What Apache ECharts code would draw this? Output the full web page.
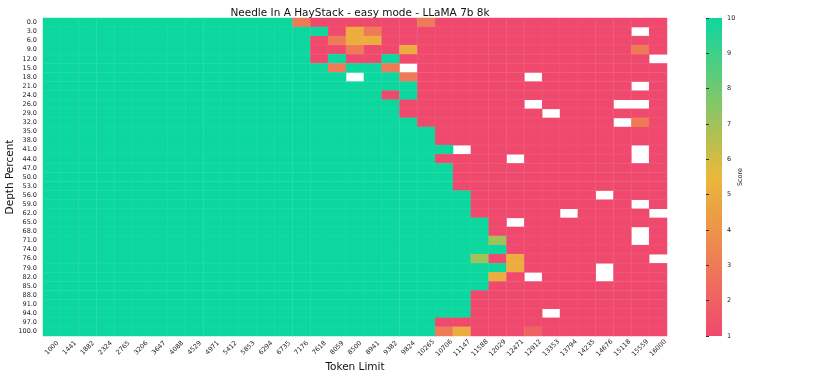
<!DOCTYPE html>
<html>
<head>
<meta charset="utf-8">
<script src="https://cdn.jsdelivr.net/npm/echarts@6/dist/echarts.min.js"></script>
<style>
html, body { margin: 0; padding: 0; background: #fff; }
#chart { width: 830px; height: 380px; }
</style>
</head>
<body>
<div id="chart"></div>
<script>
var tokenLimits = ['1000', '1441', '1882', '2324', '2765', '3206', '3647', '4088', '4529', '4971',
    '5412', '5853', '6294', '6735', '7176', '7618', '8059', '8500', '8941', '9382',
    '9824', '10265', '10706', '11147', '11588', '12029', '12471', '12912', '13353', '13794',
    '14235', '14676', '15118', '15559', '16000'];

var depthPercents = ['0.0', '3.0', '6.0', '9.0', '12.0', '15.0', '18.0', '21.0', '24.0', '26.0',
    '29.0', '32.0', '35.0', '38.0', '41.0', '44.0', '47.0', '50.0', '53.0', '56.0',
    '59.0', '62.0', '65.0', '68.0', '71.0', '74.0', '76.0', '79.0', '82.0', '85.0',
    '88.0', '91.0', '94.0', '97.0', '100.0'];

// one row per depth, one value per token limit; null = no score (white cell)
var scores = [
    [10,10,10,10,10, 10,10,10,10,10, 10,10,10,10,3, 1,1,1,1,1, 1,3,1,1,1, 1,1,1,1,1, 1,1,1,1,1],
    [10,10,10,10,10, 10,10,10,10,10, 10,10,10,10,10, 10,1,5,3,1, 1,1,1,1,1, 1,1,1,1,1, 1,1,1,null,1],
    [10,10,10,10,10, 10,10,10,10,10, 10,10,10,10,10, 1,3,5,5,1, 1,1,1,1,1, 1,1,1,1,1, 1,1,1,1,1],
    [10,10,10,10,10, 10,10,10,10,10, 10,10,10,10,10, 1,1,3,1,1, 5,1,1,1,1, 1,1,1,1,1, 1,1,1,3,1],
    [10,10,10,10,10, 10,10,10,10,10, 10,10,10,10,10, 1,10,1,1,10, 1,1,1,1,1, 1,1,1,1,1, 1,1,1,1,null],
    [10,10,10,10,10, 10,10,10,10,10, 10,10,10,10,10, 10,3,10,10,3, null,1,1,1,1, 1,1,1,1,1, 1,1,1,1,1],
    [10,10,10,10,10, 10,10,10,10,10, 10,10,10,10,10, 10,10,null,10,10, 3,1,1,1,1, 1,1,null,1,1, 1,1,1,1,1],
    [10,10,10,10,10, 10,10,10,10,10, 10,10,10,10,10, 10,10,10,10,10, 10,1,1,1,1, 1,1,1,1,1, 1,1,1,null,1],
    [10,10,10,10,10, 10,10,10,10,10, 10,10,10,10,10, 10,10,10,10,1, 10,1,1,1,1, 1,1,1,1,1, 1,1,1,1,1],
    [10,10,10,10,10, 10,10,10,10,10, 10,10,10,10,10, 10,10,10,10,10, 1,1,1,1,1, 1,1,null,1,1, 1,1,null,null,1],
    [10,10,10,10,10, 10,10,10,10,10, 10,10,10,10,10, 10,10,10,10,10, 1,1,1,1,1, 1,1,1,null,1, 1,1,1,1,1],
    [10,10,10,10,10, 10,10,10,10,10, 10,10,10,10,10, 10,10,10,10,10, 10,1,1,1,1, 1,1,1,1,1, 1,1,null,3,1],
    [10,10,10,10,10, 10,10,10,10,10, 10,10,10,10,10, 10,10,10,10,10, 10,10,1,1,1, 1,1,1,1,1, 1,1,1,1,1],
    [10,10,10,10,10, 10,10,10,10,10, 10,10,10,10,10, 10,10,10,10,10, 10,10,1,1,1, 1,1,1,1,1, 1,1,1,1,1],
    [10,10,10,10,10, 10,10,10,10,10, 10,10,10,10,10, 10,10,10,10,10, 10,10,10,null,1, 1,1,1,1,1, 1,1,1,null,1],
    [10,10,10,10,10, 10,10,10,10,10, 10,10,10,10,10, 10,10,10,10,10, 10,10,1,1,1, 1,null,1,1,1, 1,1,1,null,1],
    [10,10,10,10,10, 10,10,10,10,10, 10,10,10,10,10, 10,10,10,10,10, 10,10,10,1,1, 1,1,1,1,1, 1,1,1,1,1],
    [10,10,10,10,10, 10,10,10,10,10, 10,10,10,10,10, 10,10,10,10,10, 10,10,10,1,1, 1,1,1,1,1, 1,1,1,1,1],
    [10,10,10,10,10, 10,10,10,10,10, 10,10,10,10,10, 10,10,10,10,10, 10,10,10,1,1, 1,1,1,1,1, 1,1,1,1,1],
    [10,10,10,10,10, 10,10,10,10,10, 10,10,10,10,10, 10,10,10,10,10, 10,10,10,10,1, 1,1,1,1,1, 1,null,1,1,1],
    [10,10,10,10,10, 10,10,10,10,10, 10,10,10,10,10, 10,10,10,10,10, 10,10,10,10,1, 1,1,1,1,1, 1,1,1,null,1],
    [10,10,10,10,10, 10,10,10,10,10, 10,10,10,10,10, 10,10,10,10,10, 10,10,10,10,1, 1,1,1,1,null, 1,1,1,1,null],
    [10,10,10,10,10, 10,10,10,10,10, 10,10,10,10,10, 10,10,10,10,10, 10,10,10,10,10, 1,null,1,1,1, 1,1,1,1,1],
    [10,10,10,10,10, 10,10,10,10,10, 10,10,10,10,10, 10,10,10,10,10, 10,10,10,10,10, 1,1,1,1,1, 1,1,1,null,1],
    [10,10,10,10,10, 10,10,10,10,10, 10,10,10,10,10, 10,10,10,10,10, 10,10,10,10,10, 7,1,1,1,1, 1,1,1,null,1],
    [10,10,10,10,10, 10,10,10,10,10, 10,10,10,10,10, 10,10,10,10,10, 10,10,10,10,10, 10,1,1,1,1, 1,1,1,1,1],
    [10,10,10,10,10, 10,10,10,10,10, 10,10,10,10,10, 10,10,10,10,10, 10,10,10,10,7, 1,5,1,1,1, 1,1,1,1,null],
    [10,10,10,10,10, 10,10,10,10,10, 10,10,10,10,10, 10,10,10,10,10, 10,10,10,10,10, 10,5,1,1,1, 1,null,1,1,1],
    [10,10,10,10,10, 10,10,10,10,10, 10,10,10,10,10, 10,10,10,10,10, 10,10,10,10,10, 5,1,null,1,1, 1,null,1,1,1],
    [10,10,10,10,10, 10,10,10,10,10, 10,10,10,10,10, 10,10,10,10,10, 10,10,10,10,10, 1,1,1,1,1, 1,1,1,1,1],
    [10,10,10,10,10, 10,10,10,10,10, 10,10,10,10,10, 10,10,10,10,10, 10,10,10,10,1, 1,1,1,1,1, 1,1,1,1,1],
    [10,10,10,10,10, 10,10,10,10,10, 10,10,10,10,10, 10,10,10,10,10, 10,10,10,10,1, 1,1,1,1,1, 1,1,1,1,1],
    [10,10,10,10,10, 10,10,10,10,10, 10,10,10,10,10, 10,10,10,10,10, 10,10,10,10,1, 1,1,1,null,1, 1,1,1,1,1],
    [10,10,10,10,10, 10,10,10,10,10, 10,10,10,10,10, 10,10,10,10,10, 10,10,1,1,1, 1,1,1,1,1, 1,1,1,1,1],
    [10,10,10,10,10, 10,10,10,10,10, 10,10,10,10,10, 10,10,10,10,10, 10,10,3,5,1, 1,1,2,1,1, 1,1,1,1,1]
];

var scoreColors = ['#F0496E', '#EBB839', '#0CD79F'];

var heatData = [];
scores.forEach(function (row, y) {
    row.forEach(function (v, x) {
        heatData.push([x, y, v === null ? '-' : v]);
    });
});

var chart = echarts.init(document.getElementById('chart'));
var font = 'DejaVu Sans';

chart.setOption({
    animation: false,
    textStyle: { fontFamily: font },
    title: {
        text: 'Needle In A HayStack - easy mode - LLaMA 7b 8k',
        left: 355,
        top: 3,
        textAlign: 'center',
        textStyle: { fontFamily: font, fontSize: 10.5, fontWeight: 'normal', color: '#111' }
    },
    grid: [
        { left: 43, top: 18, width: 624, height: 318, outerBoundsMode: 'none' },
        { left: 706, top: 18, width: 16, height: 318, outerBoundsMode: 'none' }
    ],
    // colour bar drawn as a plain gradient box behind the score axis
    graphic: [{
        type: 'rect',
        silent: true,
        shape: { x: 706, y: 18, width: 16, height: 318 },
        style: {
            fill: new echarts.graphic.LinearGradient(0, 1, 0, 0, [
                { offset: 0, color: scoreColors[0] },
                { offset: 0.5, color: scoreColors[1] },
                { offset: 1, color: scoreColors[2] }
            ])
        }
    }],
    xAxis: [
        {
            type: 'category',
            gridIndex: 0,
            data: tokenLimits,
            name: 'Token Limit',
            nameLocation: 'middle',
            nameGap: 26,
            nameMoveOverlap: false,
            nameTextStyle: { fontFamily: font, fontSize: 10.5, color: '#111' },
            axisLine: { show: false },
            axisTick: { alignWithLabel: true, length: 3.5, lineStyle: { color: '#333' } },
            axisLabel: {
                interval: 0, rotate: 45, align: 'center', verticalAlign: 'middle',
                margin: 12, fontSize: 6.5, color: '#222', fontFamily: font
            },
            splitArea: { show: false },
            splitLine: { show: false }
        },
        { type: 'value', gridIndex: 1, show: false }
    ],
    yAxis: [
        {
            type: 'category',
            gridIndex: 0,
            data: depthPercents,
            inverse: true,
            name: 'Depth Percent',
            nameLocation: 'middle',
            nameGap: 27,
            nameRotate: 90,
            nameMoveOverlap: false,
            nameTextStyle: { fontFamily: font, fontSize: 10.5, color: '#111' },
            axisLine: { show: false },
            axisTick: { alignWithLabel: true, length: 3.5, lineStyle: { color: '#333' } },
            axisLabel: { interval: 0, margin: 6, fontSize: 6.5, color: '#222', fontFamily: font },
            splitArea: { show: false },
            splitLine: { show: false }
        },
        {
            type: 'value',
            gridIndex: 1,
            position: 'right',
            min: 1,
            max: 10,
            interval: 1,
            name: 'Score',
            nameLocation: 'middle',
            nameGap: 15,
            nameRotate: 90,
            nameMoveOverlap: false,
            nameTextStyle: { fontFamily: font, fontSize: 6.5, color: '#222' },
            axisLine: { show: false },
            axisTick: { show: true, length: 3, lineStyle: { color: '#333' } },
            axisLabel: { margin: 5, fontSize: 6.5, color: '#222', fontFamily: font },
            splitLine: { show: false }
        }
    ],
    visualMap: {
        type: 'continuous',
        show: false,
        min: 1,
        max: 10,
        seriesIndex: 0,
        inRange: { color: scoreColors }
    },
    series: [{
        type: 'heatmap',
        xAxisIndex: 0,
        yAxisIndex: 0,
        data: heatData,
        itemStyle: { borderColor: 'rgba(255,255,255,0.1)', borderWidth: 0.5 },
        emphasis: { disabled: true }
    }]
});
</script>
</body>
</html>
